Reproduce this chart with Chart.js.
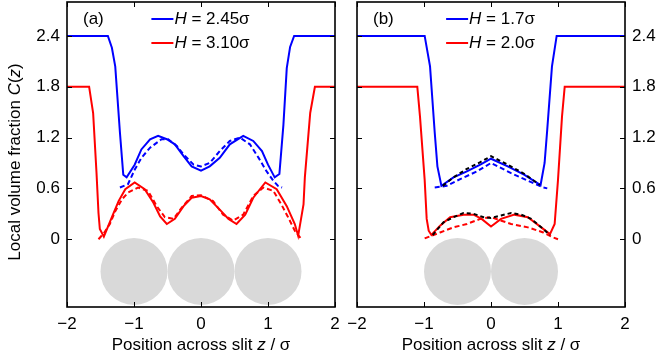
<!DOCTYPE html>
<html>
<head>
<meta charset="utf-8">
<script src="https://cdn.jsdelivr.net/npm/chart.js@4"></script>
<style>
  body { margin: 0; background: #fff; width: 657px; height: 364px; position: relative; overflow: hidden; }
  .panel { position: absolute; top: 0; height: 364px; }
  #wrapA { left: 0; width: 340px; }
  #wrapB { left: 340px; width: 317px; }
</style>
</head>
<body>
<div class="panel" id="wrapA"><canvas id="chartA"></canvas></div>
<div class="panel" id="wrapB"><canvas id="chartB"></canvas></div>
<script>
// axis ticks
const xTicks = [-2, -1, 0, 1, 2];
const yTicks = [0, 0.6, 1.2, 1.8, 2.4];

// sphere positions (in units of sigma) drawn under each panel
const spheresA = [-1, 0, 1];
const spheresB = [-0.5, 0.5];
const sphereLevel = -0.38;

// panel (a): H = 2.45 sigma (blue, offset) and H = 3.10 sigma (red)
const aBlueZ = [-2, -1.39, -1.33, -1.28, -1.21, -1.16, -1.11, -0.99, -0.89, -0.76, -0.64, -0.51, -0.39, -0.26, -0.14, 0,
  0.13, 0.28, 0.43, 0.63, 0.78, 0.91, 1.0, 1.1, 1.17, 1.23, 1.28, 1.33, 1.39, 2];
const aBlueC = [2.4, 2.4, 2.26, 2.04, 1.26, 0.76, 0.73, 0.88, 1.06, 1.18, 1.22, 1.18, 1.12, 0.98, 0.86, 0.81,
  0.86, 0.96, 1.12, 1.22, 1.16, 1.04, 0.88, 0.73, 0.77, 1.35, 2.02, 2.27, 2.4, 2.4];
const aBlueFitZ = [-1.21, -1.09, -0.99, -0.89, -0.76, -0.59, -0.49, -0.36, -0.26, -0.11, 0,
  0.13, 0.28, 0.43, 0.58, 0.73, 0.86, 0.98, 1.08, 1.15, 1.21];
const aBlueFitC = [0.61, 0.65, 0.82, 0.96, 1.08, 1.18, 1.18, 1.1, 1.0, 0.88, 0.86,
  0.9, 1.04, 1.16, 1.2, 1.12, 0.96, 0.8, 0.69, 0.63, 0.61];
const aRedZ = [-2, -1.67, -1.61, -1.56, -1.53, -1.51, -1.45, -1.33, -1.23, -1.13, -0.99, -0.84, -0.71, -0.61, -0.51, -0.39, -0.26, -0.14, 0,
  0.13, 0.28, 0.41, 0.53, 0.66, 0.78, 0.96, 1.13, 1.28, 1.4, 1.45, 1.53, 1.55, 1.63, 1.7, 2];
const aRedC = [1.8, 1.8, 1.49, 0.79, 0.31, 0.12, 0.03, 0.26, 0.45, 0.59, 0.67, 0.59, 0.43, 0.27, 0.18, 0.24, 0.39, 0.49, 0.51,
  0.47, 0.35, 0.24, 0.18, 0.29, 0.49, 0.67, 0.59, 0.39, 0.18, 0.04, 0.41, 0.73, 1.49, 1.8, 1.8];
const aRedFitZ = [-1.53, -1.45, -1.36, -1.28, -1.18, -1.09, -0.94, -0.79, -0.66, -0.54, -0.41, -0.29, -0.14, 0,
  0.18, 0.33, 0.48, 0.63, 0.78, 0.93, 1.08, 1.2, 1.3, 1.4, 1.5];
const aRedFitC = [0, 0.07, 0.18, 0.33, 0.47, 0.55, 0.61, 0.57, 0.39, 0.26, 0.24, 0.37, 0.51, 0.52,
  0.45, 0.29, 0.22, 0.29, 0.51, 0.61, 0.57, 0.41, 0.26, 0.1, 0];

// panel (b): H = 1.7 sigma (blue, offset) and H = 2.0 sigma (red)
const bBlueZ = [-2, -0.99, -0.91, -0.84, -0.8, -0.74, -0.56, -0.36, -0.16, 0, 0.25, 0.5, 0.74, 0.8, 0.84, 0.91, 0.98, 2];
const bBlueC = [2.4, 2.4, 2.04, 1.26, 0.86, 0.63, 0.73, 0.8, 0.88, 0.95, 0.86, 0.76, 0.64, 0.9, 1.3, 2.04, 2.4, 2.4];
const bBlueFitZ = [-0.84, -0.66, -0.46, -0.21, 0, 0.3, 0.55, 0.78, 0.84];
const bBlueFitC = [0.61, 0.63, 0.71, 0.8, 0.9, 0.78, 0.69, 0.61, 0.6];
const bBlueRefZ = [-0.72, -0.56, -0.36, -0.16, 0, 0.25, 0.5, 0.73];
const bBlueRefC = [0.63, 0.73, 0.83, 0.91, 0.98, 0.88, 0.77, 0.64];
const bRedZ = [-2, -1.1, -1.06, -0.99, -0.96, -0.93, -0.89, -0.76, -0.61, -0.41, -0.26, -0.14, 0,
  0.15, 0.35, 0.55, 0.75, 0.88, 0.95, 1.0, 1.06, 1.1, 2];
const bRedC = [1.8, 1.8, 1.45, 0.7, 0.24, 0.1, 0.05, 0.16, 0.26, 0.29, 0.29, 0.24, 0.15,
  0.24, 0.29, 0.26, 0.14, 0.06, 0.18, 0.7, 1.45, 1.8, 1.8];
const bRedFitZ = [-0.99, -0.76, -0.56, -0.36, -0.16, 0, 0.3, 0.55, 0.78, 0.93, 1.0];
const bRedFitC = [0.01, 0.08, 0.14, 0.18, 0.24, 0.26, 0.18, 0.14, 0.08, 0.02, 0];
const bRedRefZ = [-0.87, -0.71, -0.56, -0.41, -0.26, -0.11, 0, 0.15, 0.3, 0.45, 0.6, 0.78, 0.88];
const bRedRefC = [0.05, 0.2, 0.26, 0.31, 0.3, 0.26, 0.25, 0.28, 0.31, 0.29, 0.24, 0.12, 0.05];

const FONT = '"Liberation Sans", Arial, Helvetica, sans-serif';
const BLUE = '#0000ff', RED = '#ff0000';

const pts = (zs, cs) => zs.map((z, i) => ({ x: z, y: cs[i] }));

function line(zs, cs, color, dashed) {
  return {
    data: pts(zs, cs),
    borderColor: color,
    borderWidth: 2,
    borderDash: dashed ? [5, 3] : [],
    pointRadius: 0,
    tension: 0,
    fill: false
  };
}

// draws a string made of plain and italic pieces; returns its width
function richWidth(ctx, parts, size) {
  let w = 0;
  parts.forEach(p => {
    ctx.font = (p.i ? 'italic ' : '') + size + 'px ' + FONT;
    w += ctx.measureText(p.t).width;
  });
  return w;
}
function drawRich(ctx, parts, x, y, size, align) {
  let w = richWidth(ctx, parts, size);
  let cx = align === 'center' ? x - w / 2 : x;
  ctx.textBaseline = 'middle';
  ctx.textAlign = 'left';
  ctx.fillStyle = '#000';
  parts.forEach(p => {
    ctx.font = (p.i ? 'italic ' : '') + size + 'px ' + FONT;
    ctx.fillText(p.t, cx, y);
    cx += ctx.measureText(p.t).width;
  });
}

const panelPlugin = {
  id: 'panel',
  beforeDatasetsDraw(chart, args, opts) {
    const { ctx, scales: { x, y } } = chart;
    const r = x.getPixelForValue(0.5) - x.getPixelForValue(0);
    ctx.save();
    ctx.fillStyle = '#d9d9d9';
    opts.spheres.forEach(c => {
      ctx.beginPath();
      ctx.arc(x.getPixelForValue(c), y.getPixelForValue(sphereLevel), r, 0, Math.PI * 2);
      ctx.fill();
    });
    ctx.restore();
  },
  afterDraw(chart, args, opts) {
    const { ctx, chartArea: a, scales: { x, y } } = chart;
    ctx.save();
    // inward ticks on all four sides
    ctx.strokeStyle = '#000';
    ctx.lineWidth = 1;
    ctx.beginPath();
    x.ticks.forEach(t => {
      const px = Math.round(x.getPixelForValue(t.value)) + 0.5;
      ctx.moveTo(px, a.bottom); ctx.lineTo(px, a.bottom - 5);
      ctx.moveTo(px, a.top); ctx.lineTo(px, a.top + 5);
    });
    y.ticks.forEach(t => {
      const py = Math.round(y.getPixelForValue(t.value)) + 0.5;
      ctx.moveTo(a.left, py); ctx.lineTo(a.left + 5, py);
      ctx.moveTo(a.right, py); ctx.lineTo(a.right - 5, py);
    });
    ctx.stroke();
    ctx.lineWidth = 1.6;
    ctx.strokeRect(a.left, a.top, a.right - a.left, a.bottom - a.top);

    // panel tag
    drawRich(ctx, [{ t: opts.tag }], a.left + 16, a.top + 17, 17, 'left');

    // legend
    const rowW = 24 + Math.max(...opts.legend.map(l => richWidth(ctx, l.text, 17)));
    const lx = (a.left + a.right) / 2 - rowW / 2;
    opts.legend.forEach((l, i) => {
      const ly = a.top + 17 + i * 24;
      ctx.strokeStyle = l.color;
      ctx.lineWidth = 2;
      ctx.beginPath();
      ctx.moveTo(lx, ly); ctx.lineTo(lx + 22, ly);
      ctx.stroke();
      drawRich(ctx, l.text, lx + 23, ly, 17, 'left');
    });

    // axis titles
    drawRich(ctx, [{ t: 'Position across slit ' }, { t: 'z', i: true }, { t: ' / σ' }],
      (a.left + a.right) / 2, 345, 17, 'center');
    if (opts.yTitle) {
      ctx.translate(15, 162);
      ctx.rotate(-Math.PI / 2);
      drawRich(ctx, [{ t: 'Local volume fraction ' }, { t: 'C', i: true }, { t: '(' }, { t: 'z', i: true }, { t: ')' }],
        0, 0, 17, 'center');
    }
    ctx.restore();
  }
};

function makeChart(id, datasets, side, axisWidth, padding, panelOpts) {
  return new Chart(document.getElementById(id), {
    type: 'line',
    data: { datasets },
    plugins: [panelPlugin],
    options: {
      responsive: true,
      maintainAspectRatio: false,
      animation: false,
      layout: { padding },
      plugins: { legend: { display: false }, tooltip: { enabled: false }, panel: panelOpts },
      scales: {
        x: {
          type: 'linear', min: -2, max: 2,
          grid: { display: false, drawTicks: false },
          border: { display: false },
          afterBuildTicks: axis => { axis.ticks = xTicks.map(v => ({ value: v })); },
          afterFit: axis => { axis.height = 57; axis.paddingLeft = 0; axis.paddingRight = 0; },
          ticks: {
            padding: 7, color: '#000', maxRotation: 0, autoSkip: false,
            font: { family: FONT, size: 17 },
            callback: v => (v < 0 ? '\u2212' + Math.abs(v) : String(v))
          }
        },
        y: {
          type: 'linear', min: -0.8, max: 2.8, position: side,
          grid: { display: false, drawTicks: false },
          border: { display: false },
          afterBuildTicks: axis => { axis.ticks = yTicks.map(v => ({ value: v })); },
          afterFit: axis => { axis.width = axisWidth; axis.paddingTop = 0; axis.paddingBottom = 0; },
          ticks: {
            padding: 7, color: '#000', autoSkip: false,
            font: { family: FONT, size: 17 },
            callback: v => String(v)
          }
        }
      }
    }
  });
}

makeChart('chartA', [
  line(aBlueZ, aBlueC, BLUE, false),
  line(aRedZ, aRedC, RED, false),
  line(aBlueFitZ, aBlueFitC, BLUE, true),
  line(aRedFitZ, aRedFitC, RED, true)
], 'left', 67, { top: 2, right: 5, left: 0, bottom: 0 }, {
  tag: '(a)',
  spheres: spheresA,
  yTitle: true,
  legend: [
    { color: BLUE, text: [{ t: 'H', i: true }, { t: ' = 2.45σ' }] },
    { color: RED, text: [{ t: 'H', i: true }, { t: ' = 3.10σ' }] }
  ]
});

makeChart('chartB', [
  Object.assign(line(bBlueRefZ, bBlueRefC, '#000', true), { borderDash: [4, 3] }),
  Object.assign(line(bRedRefZ, bRedRefC, '#000', true), { borderDash: [4, 3] }),
  line(bBlueZ, bBlueC, BLUE, false),
  line(bRedZ, bRedC, RED, false),
  line(bBlueFitZ, bBlueFitC, BLUE, true),
  line(bRedFitZ, bRedFitC, RED, true)
], 'right', 32, { top: 2, right: 0, left: 17, bottom: 0 }, {
  tag: '(b)',
  spheres: spheresB,
  yTitle: false,
  legend: [
    { color: BLUE, text: [{ t: 'H', i: true }, { t: ' = 1.7σ' }] },
    { color: RED, text: [{ t: 'H', i: true }, { t: ' = 2.0σ' }] }
  ]
});
</script>
</body>
</html>
